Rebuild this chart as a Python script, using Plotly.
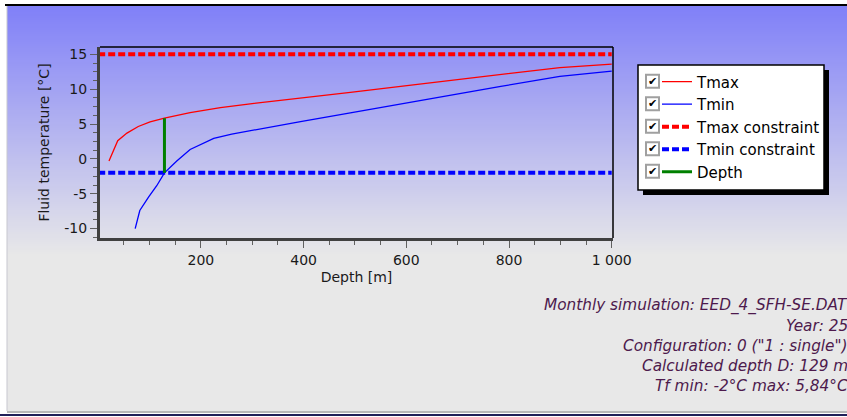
import plotly.graph_objects as go

# ---------------- data ----------------
tmax_depth = [21, 38, 56, 78, 101, 129, 179, 238, 296, 394, 491, 589, 686, 784, 899, 1000]
tmax_temp = [-0.3, 2.6, 3.7, 4.65, 5.3, 5.84, 6.65, 7.35, 7.9, 8.7, 9.55, 10.4, 11.25, 12.1, 13.1, 13.6]

tmin_depth = [72, 81, 98, 114, 129, 153, 179, 205, 225, 260, 296, 345, 394, 491, 589, 686, 784, 899, 1000]
tmin_temp = [-10.0, -7.4, -5.5, -3.85, -2.0, -0.3, 1.35, 2.3, 2.95, 3.55, 4.05, 4.75, 5.35, 6.6, 7.9, 9.1, 10.4, 11.85, 12.6]

constraint_depth = [0, 1000]
tmax_constraint = [15, 15]
tmin_constraint = [-2, -2]

calc_depth = 129
depth_line_temp = [-2, 5.84]

x_tickvals = [200, 400, 600, 800, 1000]
x_ticktext = ["200", "400", "600", "800", "1 000"]
y_tickvals = [-10, -5, 0, 5, 10, 15]
y_ticktext = ["-10", "-5", "0", "5", "10", "15"]

info_lines = [
    "Monthly simulation: EED_4_SFH-SE.DAT",
    "Year: 25",
    'Configuration: 0 ("1 : single")',
    "Calculated depth D: 129 m",
    "Tf min: -2°C max: 5,84°C",
]
legend_names = ["Tmax", "Tmin", "Tmax constraint", "Tmin constraint", "Depth"]

# ---------------- layout geometry (pixels) ----------------
FW, FH = 847, 417
PL, PR, PT, PB = 100, 613, 47, 238
PW, PH = PR - PL, PB - PT


def fx(px):
    return (px - PL) / PW


def fy(py):
    return (PB - py) / PH


FONT = "DejaVu Sans, Verdana, sans-serif"

fig = go.Figure()

fig.add_trace(go.Scatter(x=tmax_depth, y=tmax_temp, mode="lines", name=legend_names[0],
                         line=dict(color="#ff0000", width=1.3)))
fig.add_trace(go.Scatter(x=tmin_depth, y=tmin_temp, mode="lines", name=legend_names[1],
                         line=dict(color="#0000ff", width=1.3)))
fig.add_trace(go.Scatter(x=constraint_depth, y=tmax_constraint, mode="lines", name=legend_names[2],
                         line=dict(color="#ff0000", width=4, dash="7px,3px")))
fig.add_trace(go.Scatter(x=constraint_depth, y=tmin_constraint, mode="lines", name=legend_names[3],
                         line=dict(color="#0000ff", width=4, dash="7px,3px")))
fig.add_trace(go.Scatter(x=[calc_depth, calc_depth], y=depth_line_temp, mode="lines", name=legend_names[4],
                         line=dict(color="#008000", width=3)))

shapes = []


def rect(x0, y0, x1, y1, fill, line_color=None, lw=0, layer="below"):
    shapes.append(dict(type="rect", xref="paper", yref="paper",
                       x0=fx(x0), x1=fx(x1), y0=fy(y1), y1=fy(y0),
                       fillcolor=fill, line=dict(color=line_color or fill, width=lw),
                       layer=layer))


# page background
rect(7, 6, FW + 2, 411, "#e8e8e8")
# gradient stripes
top_c = (128, 128, 248)
bot_c = (232, 232, 232)
g0, g1, step = 6, 256, 2
n = (g1 - g0) // step
for i in range(n):
    t = i / (n - 1)
    c = tuple(round(a + (b - a) * t) for a, b in zip(top_c, bot_c))
    rect(7, g0 + i * step, FW + 2, g0 + (i + 1) * step + 0.5, "rgb(%d,%d,%d)" % c)
# frame
rect(5, 4, FW + 2, 6, "#000000")
rect(6.5, 6, 7.5, 411, "#c8c8d0")
rect(7, 411, FW + 2, 413, "#b8b8b8")
rect(0, 414, FW + 2, 416, "#202058")

# plot border (top/right)
shapes.append(dict(type="line", xref="paper", yref="paper", x0=0, x1=1, y0=1, y1=1,
                   line=dict(color="#000000", width=1.5), layer="above"))
shapes.append(dict(type="line", xref="paper", yref="paper", x0=1, x1=1, y0=0, y1=1,
                   line=dict(color="#000000", width=1.5), layer="above"))

# legend box with shadow
rect(643, 70, 829, 195, "#000000")
rect(638, 65, 824, 190, "#ffffff", "#000000", 1.5)

# checkboxes
row_h = 22.5
row0 = 81.7
annotations = []
for i in range(len(legend_names)):
    cy = row0 + i * row_h
    rect(646, cy - 7, 659, cy + 6, "#ffffff", "#a0a0a0", 2)
    annotations.append(dict(x=fx(652.5), y=fy(cy - 0.5), xref="paper", yref="paper",
                            text="✔", showarrow=False, xanchor="center", yanchor="middle",
                            font=dict(family=FONT, size=11, color="#000000")))

# bottom info text
info_y = [305, 325.5, 346, 366, 386]
for txt, yy in zip(info_lines, info_y):
    annotations.append(dict(x=fx(850), y=fy(yy), xref="paper", yref="paper",
                            text="<i>%s</i>" % txt, showarrow=False,
                            xanchor="right", yanchor="middle",
                            font=dict(family=FONT, size=15.3, color="#4d1a4d")))

fig.update_layout(
    width=FW, height=FH,
    margin=dict(l=PL, r=FW - PR, t=PT, b=FH - PB, pad=0),
    paper_bgcolor="#ffffff",
    plot_bgcolor="rgba(0,0,0,0)",
    font=dict(family=FONT, size=14, color="#1a1a1a"),
    showlegend=True,
    legend=dict(x=fx(657), y=fy(65.4), xanchor="left", yanchor="top",
                bgcolor="rgba(0,0,0,0)", borderwidth=0,
                font=dict(family=FONT, size=15, color="#000000"),
                tracegroupgap=0),
    shapes=shapes,
    annotations=annotations,
    xaxis=dict(
        range=[3.5, 1002.5], showgrid=False, zeroline=False,
        showline=True, linecolor="#404040", linewidth=3,
        ticks="outside", ticklen=7, tickwidth=1, tickcolor="#606060",
        tickvals=x_tickvals, ticktext=x_ticktext,
        minor=dict(dtick=50, tick0=0, ticks="outside", ticklen=4, tickcolor="#606060", showgrid=False),
        title=dict(text="Depth [m]", standoff=6, font=dict(size=14)),
        automargin=False,
    ),
    yaxis=dict(
        range=[-11.35, 16.05], showgrid=False, zeroline=False,
        showline=True, linecolor="#404040", linewidth=3,
        ticks="outside", ticklen=7, tickwidth=1, tickcolor="#606060",
        tickvals=y_tickvals, ticktext=y_ticktext,
        minor=dict(dtick=1.25, tick0=0, ticks="outside", ticklen=4, tickcolor="#606060", showgrid=False),
        title=dict(text="Fluid temperature [°C]", standoff=12, font=dict(size=14)),
        automargin=False,
    ),
)

fig.write_html("out.html")
